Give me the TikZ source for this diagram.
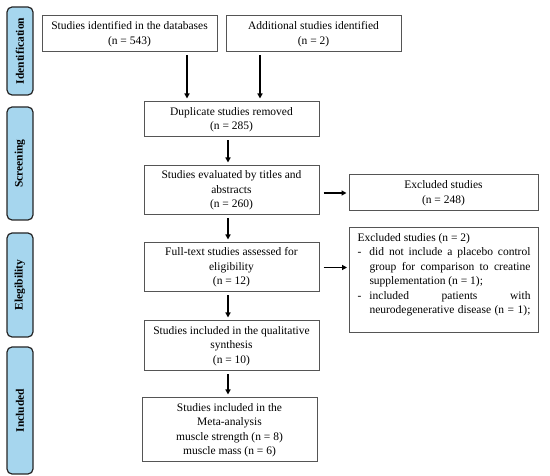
\documentclass[tikz,border=0pt]{standalone}
\usepackage{fontspec}
\setmainfont{Liberation Serif}
\usetikzlibrary{arrows.meta}
\definecolor{stageblue}{RGB}{166,214,238}
\definecolor{boxgray}{RGB}{85,85,85}
\newcommand\bodyfont{\fontsize{11.5}{14.5}\selectfont}
\begin{document}
\begin{tikzpicture}[x=1pt,y=-1pt,
  stage/.style={draw=black!85, line width=1.2pt, rounded corners=5pt, fill=stageblue,
    minimum height=26pt, inner sep=0pt, rotate=90,
    font=\fontsize{11.5}{13}\selectfont\bfseries},
  box/.style={draw=boxgray, line width=1pt, align=center, inner sep=0pt, font=\bodyfont},
  arr/.style={line width=1.2pt, -{Triangle[length=5pt,width=5pt]}, shorten <=3pt, shorten >=3pt}
]
\useasboundingbox (0,0) rectangle (550,476);

% stage labels
\node[stage, minimum width=88pt]  (sid) at (20,51)    {Identification};
\node[stage, minimum width=113pt] (ssc) at (20,163.5) {Screening};
\node[stage, minimum width=104pt] (sel) at (20,285)   {Elegibility};
\node[stage, minimum width=127pt] (sin) at (20,410.5) {Included};

% main boxes
\node[box, minimum width=175pt, minimum height=36pt] (b1) at (129.5,34) {Studies identified in the databases\\(n = 543)};
\node[box, minimum width=175pt, minimum height=36pt] (b2) at (313.5,34) {Additional studies identified\\(n = 2)};
\node[box, minimum width=175pt, minimum height=35pt] (b3) at (231.5,119.5) {Duplicate studies removed\\(n = 285)};
\node[box, minimum width=175pt, minimum height=49pt] (b4) at (231.5,190.5) {Studies evaluated by titles and\\abstracts\\(n = 260)};
\node[box, minimum width=189pt, minimum height=36pt] (e1) at (443.5,193) {Excluded studies\\(n = 248)};
\node[box, minimum width=175pt, minimum height=49pt] (b5) at (231.5,267.5) {Full-text studies assessed for\\eligibility\\(n = 12)};
\node[box, minimum width=175pt, minimum height=50pt] (b6) at (231.5,346) {Studies included in the qualitative\\synthesis\\(n = 10)};
\node[box, minimum width=175pt, minimum height=64pt] (b7) at (229.5,430) {Studies included in the\\Meta-analysis\\muscle strength (n = 8)\\muscle mass (n = 6)};

\node[box, anchor=north west, text width=173pt, inner xsep=8pt, inner ysep=6pt, align=justify] (e2) at (349,227)
{Excluded studies (n = 2)\par
\hangindent=12pt\hangafter=1\noindent\makebox[12pt][l]{-}did not include a placebo control\linebreak group for comparison to creatine\linebreak supplementation (n~=~1);\par
\hangindent=12pt\hangafter=1\noindent\makebox[12pt][l]{-}included patients with\linebreak \makebox[161pt][s]{neurodegenerative disease (n = 1);}\rule[-12.5pt]{0pt}{0pt}\par};

% connectors
\coordinate (xa) at (187,0);
\coordinate (xb) at (260,0);
\coordinate (xc) at (228,0);
\draw[arr] (b1.south -| xa) -- (b3.north -| xa);
\draw[arr] (b2.south -| xb) -- (b3.north -| xb);
\draw[arr] (b3.south -| xc) -- (b4.north -| xc);
\draw[arr] (b4.south -| xc) -- (b5.north -| xc);
\draw[arr] (b5.south -| xc) -- (b6.north -| xc);
\draw[arr] (b6.south -| xc) -- (b7.north -| xc);
\draw[arr, shorten <=4pt, shorten >=2pt] (b4.east |- e1.west) -- (e1.west);
\draw[arr, shorten <=4pt, shorten >=2pt] (b5.east) -- (b5.east -| e2.west);
\end{tikzpicture}
\end{document}
